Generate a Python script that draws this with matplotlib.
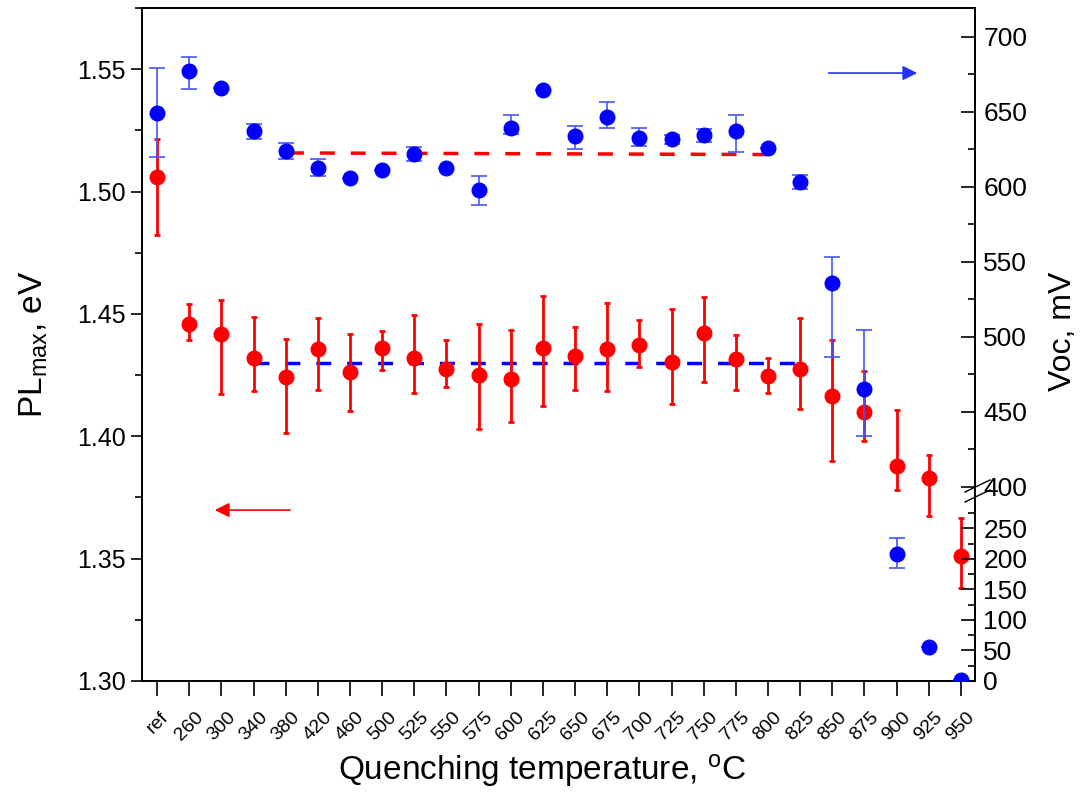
import numpy as np
import matplotlib
matplotlib.use('Agg')
import matplotlib.pyplot as plt

plt.rcParams['font.family'] = ['Liberation Sans', 'DejaVu Sans']
plt.rcParams['mathtext.fontset'] = 'custom'
plt.rcParams['mathtext.rm'] = 'Liberation Sans'
plt.rcParams['mathtext.it'] = 'Liberation Sans'

# quenching temperatures (categories)
temps = ['ref', '260', '300', '340', '380', '420', '460', '500', '525', '550',
         '575', '600', '625', '650', '675', '700', '725', '750', '775', '800',
         '825', '850', '875', '900', '925', '950']

# PL maximum, eV (left axis)
pl_max = [1.5058, 1.4458, 1.4419, 1.4318, 1.4243, 1.4357, 1.4264, 1.4359, 1.4321, 1.4273,
          1.4249, 1.4236, 1.4361, 1.4329, 1.4355, 1.4375, 1.4304, 1.4423, 1.4317, 1.4246,
          1.4273, 1.4163, 1.4099, 1.3879, 1.3830, 1.3509]
pl_err_lo = [0.0234, 0.0063, 0.0248, 0.0134, 0.0231, 0.0169, 0.0161, 0.0089, 0.0144, 0.0071,
             0.0219, 0.0177, 0.0237, 0.0140, 0.0170, 0.0092, 0.0172, 0.0200, 0.0127, 0.0069,
             0.0161, 0.0263, 0.0117, 0.0099, 0.0155, 0.0129]
pl_err_hi = [0.0155, 0.0082, 0.0138, 0.0170, 0.0154, 0.0127, 0.0155, 0.0072, 0.0176, 0.0120,
             0.0210, 0.0200, 0.0214, 0.0118, 0.0188, 0.0102, 0.0217, 0.0146, 0.0097, 0.0072,
             0.0210, 0.0229, 0.0169, 0.0228, 0.0093, 0.0159]

# open circuit voltage, mV (right axis)
voc = [649, 677.5, 665.8, 637.3, 624, 612.9, 606.2, 611.3, 622, 612.9,
       597.8, 639, 664.7, 634, 646.5, 632.4, 631.8, 634.4, 637.6, 625.8,
       603.3, 535.8, 465.1, 208, 56.3, 2]
voc_err_lo = [28.7, 12, 0, 5, 5.5, 5.7, 0, 0, 4.8, 0,
              9.6, 4, 0, 8.7, 7.1, 5, 3, 4.4, 14.2, 0,
              4.7, 49, 31, 23.5, 0, 0]
voc_err_hi = [30.2, 9, 0, 5, 5.5, 5.7, 0, 0, 4.8, 0,
              9.6, 8.7, 0, 6.7, 10, 6.9, 3, 4.4, 10.2, 0,
              4.7, 17.7, 39.3, 26.8, 0, 0]

# guide lines: red dashed on Voc axis, blue dashed on PL axis
voc_guide_x = [4.1, 19.3]
voc_guide_y = [622.7, 621.6]
pl_guide_x = [3.0, 20.1]
pl_guide_y = [1.430, 1.430]

# broken right axis: 0-280 compressed, 400+ expanded
brk_v = [-1000, 0, 280, 395, 2000]
brk_p = [-610, 0, 170.8, 186.5, 194 + 1600 * 1.5]


def voc_fwd(v):
    return np.interp(v, brk_v, brk_p)


def voc_inv(p):
    return np.interp(p, brk_p, brk_v)


x = np.arange(len(temps))

fig = plt.figure(figsize=(10.85, 7.95), dpi=100)
ax = fig.add_axes([0.1309, 0.1434, 0.7677, 0.8465])

ax.errorbar(x, pl_max, yerr=[pl_err_lo, pl_err_hi], fmt='o', color='#ff0000',
            ms=10.5, elinewidth=2, capsize=2.5, capthick=2, zorder=3)
ax.plot(pl_guide_x, pl_guide_y, color='#0000ff', lw=2.5, dashes=(4.3, 4.6))

ax.set_xlim(-0.47, 25.44)
ax.set_ylim(1.30, 1.575)
ax.set_yticks(np.arange(1.30, 1.551, 0.05))
ax.set_yticks(np.arange(1.325, 1.576, 0.05), minor=True)
ax.set_xticks(x)
ax.set_xticklabels(temps, rotation=45, fontsize=14)
ax.tick_params(axis='y', direction='out', length=8, width=1.2, labelsize=18)
ax.tick_params(axis='y', which='minor', direction='out', length=5, width=1.2)
ax.tick_params(axis='x', direction='out', length=11, width=1.2, pad=9)
ax.set_ylabel('PL$_{max}$, eV', fontsize=24, labelpad=20)
ax.set_xlabel('Quenching temperature, $^{\\mathregular{o}}$C', fontsize=24, labelpad=6)
ax.xaxis.set_label_coords(0.48, -0.105)
for s in ax.spines.values():
    s.set_linewidth(1.3)

ax2 = ax.twinx()
ax2.set_yscale('function', functions=(voc_fwd, voc_inv))
ax2.errorbar(x, voc, yerr=[voc_err_lo, voc_err_hi], fmt='o', color='#0000ff',
             ecolor='#4455ff', ms=10.5, elinewidth=1.2, capsize=6, capthick=1.2, zorder=3)
ax2.plot(voc_guide_x, voc_guide_y, color='#ff0000', lw=2.5, dashes=(4.3, 4.6))
ax2.set_ylim(0, 719.3)
ax2.set_yticks([0, 50, 100, 150, 200, 250, 400, 450, 500, 550, 600, 650, 700])
ax2.set_yticks([25, 75, 125, 175, 225, 275, 425, 475, 525, 575, 625, 675], minor=True)
ax2.tick_params(axis='y', direction='in', length=10, width=1.2, labelsize=19, pad=6)
ax2.tick_params(axis='y', which='minor', direction='in', length=5, width=1.2)
ax2.set_ylabel('Voc, mV', fontsize=23)
ax2.yaxis.set_label_coords(1.088, 0.52)
for s in ax2.spines.values():
    s.set_linewidth(1.3)

# axis break marks
ax2.plot([0.988, 1.018], [0.2808, 0.2987], color='black', lw=1, transform=ax2.transAxes, clip_on=False)
ax2.plot([0.988, 1.018], [0.266, 0.2838], color='black', lw=1, transform=ax2.transAxes, clip_on=False)

# arrows showing which axis each series belongs to
ax2.annotate('', xy=(0.934, 0.9034), xytext=(0.821, 0.9034), xycoords='axes fraction',
             arrowprops=dict(arrowstyle='-|>', color='#2233ff', lw=1.2, mutation_scale=22))
ax.annotate('', xy=(0.084, 0.254), xytext=(0.181, 0.254), xycoords='axes fraction',
            arrowprops=dict(arrowstyle='-|>', color='#ff0000', lw=1.2, mutation_scale=22))

plt.savefig('out.png', dpi=100)
